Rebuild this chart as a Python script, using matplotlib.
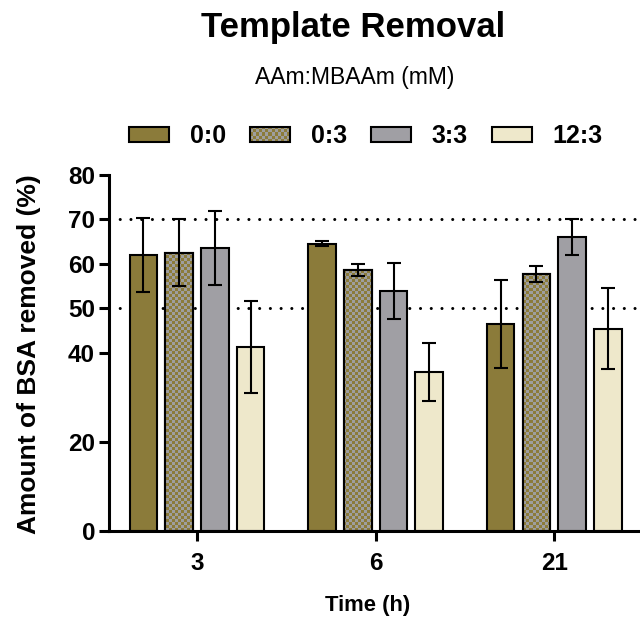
import numpy as np
import matplotlib
matplotlib.use("Agg")
import matplotlib.pyplot as plt
from matplotlib.patches import Rectangle
from matplotlib.legend_handler import HandlerPatch
from matplotlib.image import BboxImage
from matplotlib.transforms import Bbox, TransformedBbox
from matplotlib.colors import ListedColormap

plt.rcParams['font.family'] = ['Liberation Sans', 'DejaVu Sans']

# data: mean +/- sd of BSA removed (%)
times = ['3', '6', '21']
ratios = ['0:0', '0:3', '3:3', '12:3']
mean_00 = [62.0, 64.6, 46.6]
sd_00 = [8.3, 0.6, 9.9]
mean_03 = [62.5, 58.6, 57.8]
sd_03 = [7.5, 1.4, 1.8]
mean_33 = [63.6, 53.9, 66.0]
sd_33 = [8.3, 6.3, 4.0]
mean_123 = [41.3, 35.7, 45.5]
sd_123 = [10.3, 6.6, 9.2]
ref_lines = [50, 70]
yticks = [0, 20, 40, 50, 60, 70, 80]

means = [mean_00, mean_03, mean_33, mean_123]
sds = [sd_00, sd_03, sd_33, sd_123]

OLIVE = '#8B7B3A'
GRAY = '#A09FA4'
CREAM = '#EEE8CB'
CHECK_GRAY = '#9E9E9E'
fills = [OLIVE, None, GRAY, CREAM]  # None -> checkerboard
checker_cmap = ListedColormap([OLIVE, CHECK_GRAY])


def checker(nrows, ncols):
    return (np.add.outer(np.arange(nrows), np.arange(ncols)) % 2).astype(float)


class CheckerHandler(HandlerPatch):
    def create_artists(self, legend, orig_handle, xdescent, ydescent,
                       width, height, fontsize, trans):
        bb = TransformedBbox(Bbox.from_bounds(-xdescent, -ydescent, width, height), trans)
        img = BboxImage(bb, cmap=checker_cmap, interpolation='nearest')
        img.set_data(checker(5, 13))
        img.set_clim(0, 1)
        rect = Rectangle((-xdescent, -ydescent), width, height,
                         facecolor='none', edgecolor='black', lw=1.5)
        rect.set_transform(trans)
        return [img, rect]


fig = plt.figure(figsize=(6.4, 6.19), dpi=100)
ax = fig.add_axes([0.1703, 0.1422, 0.8297, 0.5751])

x = np.arange(len(times))
width = 0.154
offsets = [-0.3, -0.1, 0.1, 0.3]
xlim = (-0.493, 2.48)
ylim = (0, 80)

for y in ref_lines:
    ax.axhline(y, color='black', lw=2.2, linestyle=(0, (0.01, 3.5)),
               dash_capstyle='round', zorder=1)

handles = []
for i, (m, s, fc) in enumerate(zip(means, sds, fills)):
    xs = x + offsets[i]
    bars = ax.bar(xs, m, width=width, facecolor=fc if fc else CHECK_GRAY,
                  edgecolor='black', linewidth=1.5, zorder=2)
    if fc is None:
        # checker pattern fill, clipped to each bar
        for b in bars:
            im = ax.imshow(checker(119, 177), extent=[xlim[0], xlim[1], ylim[0], ylim[1]],
                           cmap=checker_cmap, vmin=0, vmax=1, aspect='auto',
                           interpolation='nearest', zorder=2.1)
            im.set_clip_path(b)
            # redraw edge on top
            ax.add_patch(Rectangle(b.get_xy(), b.get_width(), b.get_height(),
                                   facecolor='none', edgecolor='black', lw=1.5, zorder=2.2))
    ax.errorbar(xs, m, yerr=s, fmt='none', ecolor='black', elinewidth=1.5,
                capsize=4.7, capthick=1.5, zorder=3)
    handles.append(Rectangle((0, 0), 1, 1, facecolor=fc if fc else CHECK_GRAY,
                             edgecolor='black', lw=1.5))

ax.set_xlim(*xlim)
ax.set_ylim(*ylim)
ax.set_yticks(yticks)
ax.set_xticks(x)
ax.set_xticklabels(times)

for side in ['top', 'right']:
    ax.spines[side].set_visible(False)
for side in ['left', 'bottom']:
    ax.spines[side].set_linewidth(2.2)
ax.tick_params(axis='both', length=7, width=2.2, labelsize=17.5, direction='out')
ax.tick_params(axis='y', pad=3)
ax.tick_params(axis='x', pad=8)
for lab in ax.get_xticklabels() + ax.get_yticklabels():
    lab.set_fontweight('bold')

# axis titles placed in figure coords
fig.text(0.045, 0.428, 'Amount of BSA removed (%)', rotation=90, ha='center',
         va='center', fontsize=19, fontweight='bold')
fig.text(0.575, 0.0226, 'Time (h)', ha='center', va='center',
         fontsize=15.8, fontweight='bold')

fig.text(0.552, 0.956, 'Template Removal', ha='center', va='center',
         fontsize=25, fontweight='bold')
fig.text(0.554, 0.874, 'AAm:MBAAm (mM)', ha='center', va='center', fontsize=16.5)

hmap = {handles[1]: CheckerHandler()}
leg = fig.legend(handles, ratios, loc='center', bbox_to_anchor=(0.572, 0.78),
                 ncol=4, frameon=False, handlelength=1.6, handleheight=0.56,
                 handletextpad=0.84, columnspacing=0.95,
                 prop={'size': 18, 'weight': 'bold'}, handler_map=hmap)

fig.savefig('out.png', dpi=100)
